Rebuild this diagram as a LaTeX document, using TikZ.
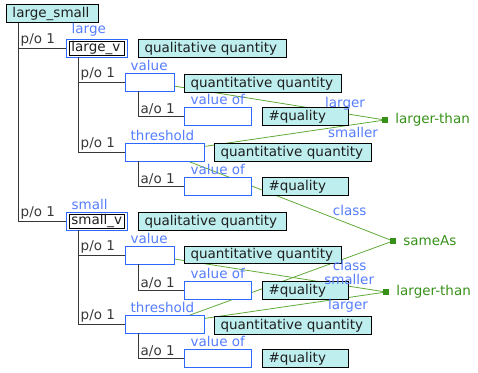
\documentclass[tikz,border=0pt]{standalone}
\usepackage{fontspec}
\setmainfont{DejaVu Sans}
\usetikzlibrary{backgrounds}
\definecolor{cfill}{RGB}{190,238,238}
\definecolor{iblue}{RGB}{45,105,255}
\definecolor{lblue}{RGB}{85,125,255}
\definecolor{gline}{RGB}{95,170,55}
\definecolor{gtext}{RGB}{55,145,25}
\definecolor{tline}{RGB}{55,55,55}
\begin{document}
\begin{tikzpicture}[x=1pt,y=-1pt,font=\fontsize{13.5}{15}\selectfont,
  cls/.style={draw=black,fill=cfill,line width=1pt,inner xsep=6pt,inner ysep=0pt,minimum height=18pt,align=left,anchor=north west,text=black!88},
  inst/.style={draw=iblue,fill=white,line width=0.9pt,inner sep=0pt,minimum height=17.5pt,anchor=north west},
  innerbox/.style={draw=black,line width=0.8pt,inner xsep=2pt,inner ysep=0pt,minimum height=13pt,align=left,text=black!88},
  lbl/.style={text=lblue,inner sep=0.5pt,anchor=south west},
  rel/.style={text=tline,inner sep=0.5pt,anchor=south west},
  tree/.style={draw=tline,line width=1pt},
  gl/.style={draw=gline,line width=0.8pt},
  elbl/.style={text=lblue,inner sep=1pt},
  mk/.style={fill=gtext,rectangle,minimum size=6pt,inner sep=0pt},
  gtxt/.style={text=gtext,anchor=west,inner sep=0pt}]
\useasboundingbox (0,0) rectangle (478,372);
% --- upper half
\node[cls,text width=80pt] (LS) at (6,4) {large\_small};
\node[inst,minimum width=61pt] (LVo) at (66,39) {};
\node[innerbox,text width=51pt] (LV) at (LVo.center) {large\_v};
\node[lbl] (LVl) at ([xshift=5pt,yshift=1.5pt]LVo.north west) {large};
\node[cls,text width=136pt] (QL1) at (138,39) {qualitative quantity};
\node[inst,minimum width=49pt] (V1) at (125,73) {};
\node[lbl] (V1l) at ([xshift=5pt,yshift=1.5pt]V1.north west) {value};
\node[cls,text width=145pt] (Q1) at (184,74) {quantitative quantity};
\node[inst,minimum width=67pt] (VO1) at (184,107) {};
\node[lbl] (VO1l) at ([xshift=6pt,yshift=1.5pt]VO1.north west) {value of};
\node[cls,text width=74pt] (H1) at (262,107) {\#quality};
\node[inst,minimum width=79pt] (T1) at (125,143) {};
\node[lbl] (T1l) at ([xshift=5pt,yshift=1.5pt]T1.north west) {threshold};
\node[cls,text width=145pt] (Q2) at (214,143) {quantitative quantity};
\node[inst,minimum width=67pt] (VO2) at (184,177) {};
\node[lbl] (VO2l) at ([xshift=6pt,yshift=1.5pt]VO2.north west) {value of};
\node[cls,text width=74pt] (H2) at (262,177) {\#quality};
% --- lower half
\node[inst,minimum width=61pt] (SVo) at (66,212) {};
\node[innerbox,text width=51pt] (SV) at (SVo.center) {small\_v};
\node[lbl] (SVl) at ([xshift=5pt,yshift=1.5pt]SVo.north west) {small};
\node[cls,text width=136pt] (QL2) at (138,212) {qualitative quantity};
\node[inst,minimum width=49pt] (V2) at (125,246) {};
\node[lbl] (V2l) at ([xshift=5pt,yshift=1.5pt]V2.north west) {value};
\node[cls,text width=145pt,minimum height=16.5pt] (Q3) at (184,246) {quantitative quantity};
\node[inst,minimum width=67pt] (VO3) at (184,281) {};
\node[lbl] (VO3l) at ([xshift=6pt,yshift=1.5pt]VO3.north west) {value of};
\node[cls,text width=74pt] (H3) at (262,281) {\#quality};
\node[inst,minimum width=79pt] (T2) at (125,315) {};
\node[lbl] (T2l) at ([xshift=5pt,yshift=1.5pt]T2.north west) {threshold};
\node[cls,text width=145pt] (Q4) at (214,316) {quantitative quantity};
\node[inst,minimum width=67pt] (VO4) at (184,349) {};
\node[lbl] (VO4l) at ([xshift=6pt,yshift=1.5pt]VO4.north west) {value of};
\node[cls,text width=74pt] (H4) at (262,349) {\#quality};
% --- relation markers
\node[mk] (LT1) at (385,120) {};
\node[gtxt] (LT1t) at ([xshift=7pt]LT1.east) {larger-than};
\node[mk] (SA) at (393,241) {};
\node[gtxt] (SAt) at ([xshift=7pt]SA.east) {sameAs};
\node[mk] (LT2) at (386,292) {};
\node[gtxt] (LT2t) at ([xshift=7pt]LT2.east) {larger-than};
% --- relation lines (behind the boxes)
\begin{scope}[on background layer]
\draw[gl] (V1.center) -- (LT1.center);
\draw[gl] (T1.center) -- (LT1.center);
\draw[gl] (T1.center) -- (SA.center);
\draw[gl] (T2.center) -- (SA.center);
\draw[gl] (V2.center) -- (LT2.center);
\draw[gl] (T2.center) -- (LT2.center);
\end{scope}
% --- relation line labels
\path (V1.center) -- node[elbl,pos=0.83,above,yshift=2pt] (e1) {larger} (LT1.center);
\path (T1.center) -- node[elbl,pos=0.855,below,yshift=-1pt] (e2) {smaller} (LT1.center);
\path (T1.center) -- node[elbl,pos=0.81,above,yshift=7pt] (e3) {class} (SA.center);
\path (T2.center) -- node[elbl,pos=0.81,below,inner sep=0pt,yshift=-3.5pt] (e4) {class} (SA.center);
\path (V2.center) -- node[elbl,pos=0.844,above,inner sep=0pt,yshift=1pt] (e5) {smaller} (LT2.center);
\path (T2.center) -- node[elbl,pos=0.828,below] (e6) {larger} (LT2.center);
% --- tree
\coordinate (tLS) at ([xshift=12pt]LS.south west);
\draw[tree] (tLS) |- (LVo.west);
\draw[tree] (tLS) |- (SVo.west);
\node[rel] (r1) at ([xshift=2pt,yshift=0.8pt]tLS |- LVo.west) {p/o 1};
\node[rel] (r2) at ([xshift=2pt,yshift=0.8pt]tLS |- SVo.west) {p/o 1};
\coordinate (tLV) at ([xshift=12pt]LVo.south west);
\draw[tree] (tLV) |- (V1.west);
\draw[tree] (tLV) |- (T1.west);
\node[rel] (r3) at ([xshift=2pt,yshift=0.8pt]tLV |- V1.west) {p/o 1};
\node[rel] (r4) at ([xshift=2pt,yshift=0.8pt]tLV |- T1.west) {p/o 1};
\coordinate (tV1) at ([xshift=13pt]V1.south west);
\draw[tree] (tV1) |- (VO1.west);
\node[rel] (r5) at ([xshift=2pt,yshift=0.8pt]tV1 |- VO1.west) {a/o 1};
\coordinate (tT1) at ([xshift=13pt]T1.south west);
\draw[tree] (tT1) |- (VO2.west);
\node[rel] (r6) at ([xshift=2pt,yshift=0.8pt]tT1 |- VO2.west) {a/o 1};
\coordinate (tSV) at ([xshift=12pt]SVo.south west);
\draw[tree] (tSV) |- (V2.west);
\draw[tree] (tSV) |- (T2.west);
\node[rel] (r7) at ([xshift=2pt,yshift=0.8pt]tSV |- V2.west) {p/o 1};
\node[rel] (r8) at ([xshift=2pt,yshift=0.8pt]tSV |- T2.west) {p/o 1};
\coordinate (tV2) at ([xshift=13pt]V2.south west);
\draw[tree] (tV2) |- (VO3.west);
\node[rel] (r9) at ([xshift=2pt,yshift=0.8pt]tV2 |- VO3.west) {a/o 1};
\coordinate (tT2) at ([xshift=13pt]T2.south west);
\draw[tree] (tT2) |- (VO4.west);
\node[rel] (r10) at ([xshift=2pt,yshift=0.8pt]tT2 |- VO4.west) {a/o 1};
\end{tikzpicture}
\end{document}
